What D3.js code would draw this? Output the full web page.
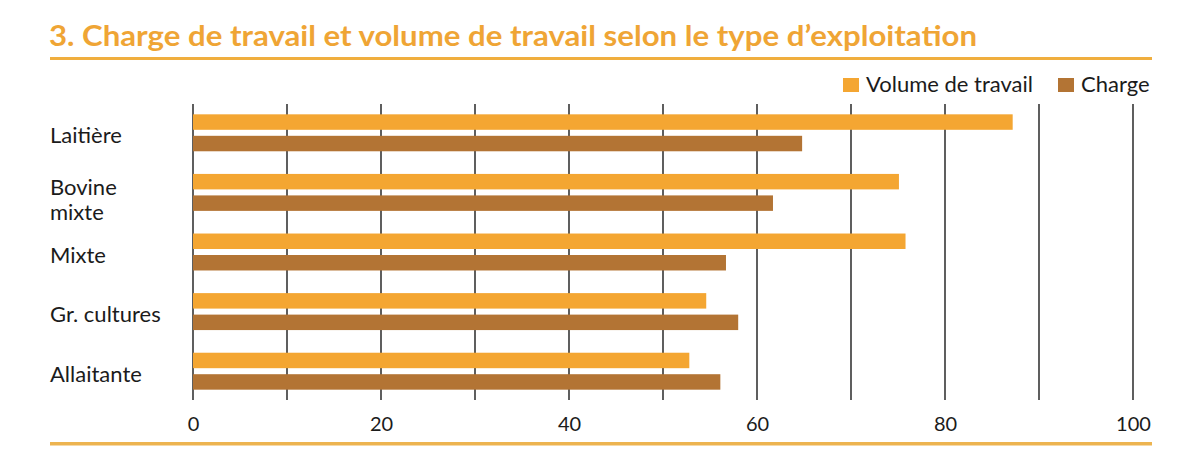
<!DOCTYPE html>
<html><head><meta charset="utf-8">
<script src="https://cdn.jsdelivr.net/npm/d3@7"></script>
<style>
html,body{margin:0;padding:0;background:#fff;}
svg{display:block;}
</style></head>
<body>
<svg id="chart" width="1199" height="458"></svg>
<script>
const title = "3. Charge de travail et volume de travail selon le type d\u2019exploitation";
const categories = ["Laiti\u00e8re", "Bovine\nmixte", "Mixte", "Gr. cultures", "Allaitante"];
const seriesNames = ["Volume de travail", "Charge"];
const volumeTravail = [87.2, 75.1, 75.8, 54.6, 52.8];
const charge = [64.8, 61.7, 56.7, 58.0, 56.1];
const tickValues = [0, 20, 40, 60, 80, 100];
const gridValues = [0, 10, 20, 30, 40, 50, 60, 70, 80, 90, 100];
const colors = ["#F4A632", "#B37434"];

const svg = d3.select("#chart");
const FONT = "Lato, 'Open Sans', sans-serif";
const textColor = "#1b1b1b";
const ruleColor = "#F0AE3E";

// Title
svg.append("text").attr("x", 49).attr("y", 46)
  .attr("font-family", FONT).attr("font-weight", 700).attr("font-size", 29)
  .attr("textLength", 928).attr("lengthAdjust", "spacingAndGlyphs")
  .attr("fill", "#EFA535").text(title);
svg.append("rect").attr("x", 50).attr("y", 57).attr("width", 1102).attr("height", 3).attr("fill", ruleColor);
svg.append("rect").attr("x", 50).attr("y", 442).attr("width", 1102).attr("height", 3.5).attr("fill", "#EDB450");

const x = d3.scaleLinear().domain([0, 100]).range([193, 1133]);
const y = d3.scaleBand().domain(categories).range([103, 401]).paddingInner(0.38).paddingOuter(0.19);
const y1 = d3.scaleBand().domain(seriesNames).range([0, y.bandwidth()]).paddingInner(0.28);

// grid lines
svg.append("g").selectAll("line").data(gridValues).join("line")
  .attr("x1", d => x(d)).attr("x2", d => x(d))
  .attr("y1", 104).attr("y2", 400)
  .attr("stroke", "#1a1a1a").attr("stroke-width", 1.4);

// axis labels
const axis = d3.axisBottom(x).tickValues(tickValues).tickSize(0).tickPadding(0);
const ag = svg.append("g").attr("transform", "translate(0,415)").call(axis);
ag.select(".domain").remove();
ag.selectAll("text").attr("font-family", FONT).attr("font-size", 20).attr("fill", textColor).attr("dy", "0.8em");

// bars
const data = categories.map((c, i) => ({cat: c, vals: [volumeTravail[i], charge[i]]}));
const groups = svg.append("g").selectAll("g").data(data).join("g")
  .attr("transform", d => `translate(0,${y(d.cat)})`);
groups.selectAll("rect").data(d => d.vals.map((v, j) => ({name: seriesNames[j], v, j})))
  .join("rect")
  .attr("x", x(0))
  .attr("y", d => y1(d.name))
  .attr("width", d => x(d.v) - x(0))
  .attr("height", y1.bandwidth())
  .attr("fill", d => colors[d.j]);

// category labels
const lab = svg.append("g").selectAll("text").data(categories).join("text")
  .attr("font-family", FONT).attr("font-size", 22).attr("fill", textColor)
  .attr("x", 50)
  .attr("y", d => {
    const n = d.split("\n").length;
    return y(d) + y.bandwidth() / 2 + 10.5 - (n - 1) * 7.5;
  });
lab.each(function(d) {
  const lines = d.split("\n");
  d3.select(this).selectAll("tspan").data(lines).join("tspan")
    .attr("x", 50).attr("dy", (l, i) => i === 0 ? 0 : 25).text(l => l);
});

// legend
const legX = [843, 1058];
const leg = svg.append("g").selectAll("g").data(seriesNames).join("g");
leg.append("rect").attr("x", (d, i) => legX[i]).attr("y", 78).attr("width", 16).attr("height", 14)
  .attr("fill", (d, i) => colors[i]);
leg.append("text").attr("x", (d, i) => legX[i] + 23).attr("y", 92)
  .attr("font-family", FONT).attr("font-size", 22).attr("fill", textColor).text(d => d);
</script>
</body></html>
